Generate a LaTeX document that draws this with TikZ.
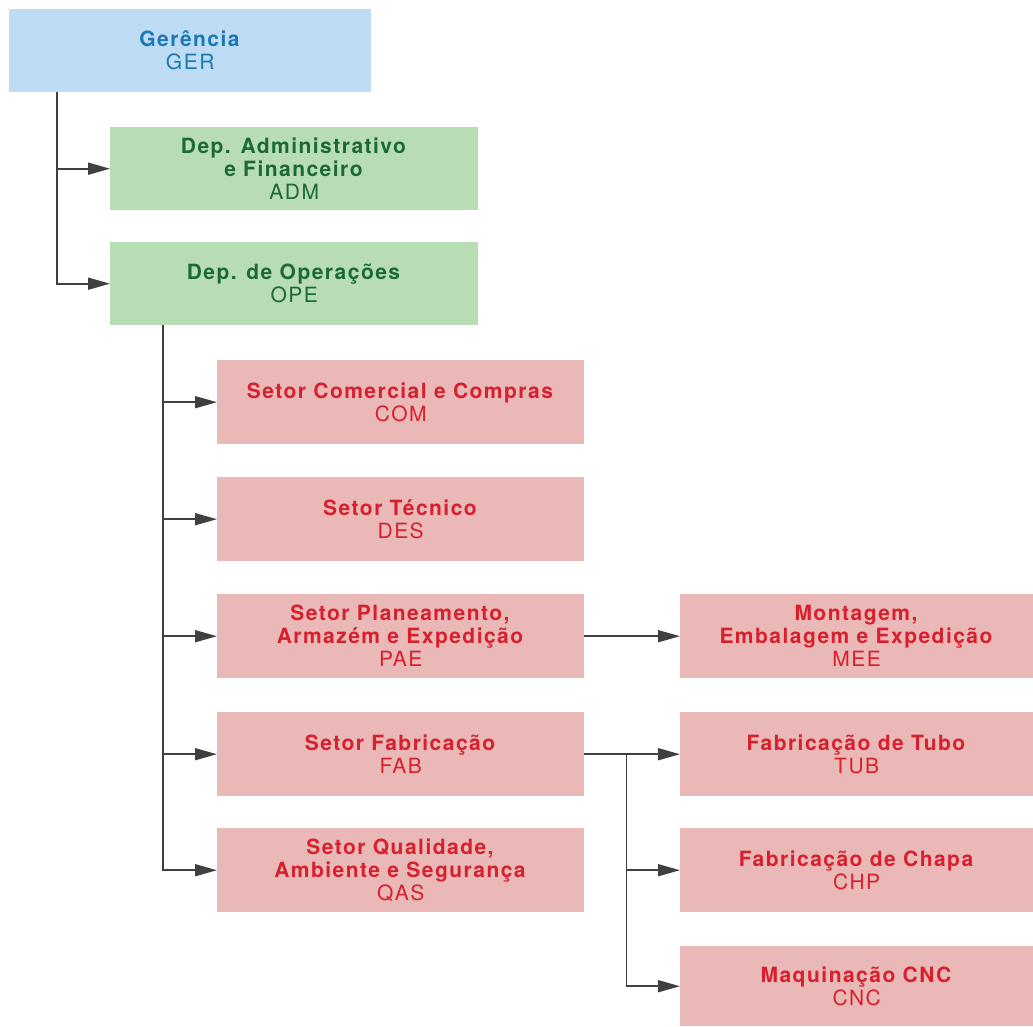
\documentclass[tikz,border=0pt]{standalone}
\usepackage{fontspec}
\setmainfont{TeX Gyre Heros}[LetterSpace=7]
\usetikzlibrary{arrows.meta,calc}
\definecolor{gerfill}{HTML}{BEDDF4}
\definecolor{gertext}{HTML}{1B78B5}
\definecolor{depfill}{HTML}{B8DCB4}
\definecolor{deptext}{HTML}{1B6A36}
\definecolor{setfill}{HTML}{EAB8B7}
\definecolor{settext}{HTML}{D71F2D}
\definecolor{linkgray}{HTML}{404040}
\begin{document}
\begin{tikzpicture}[x=1pt,y=-1pt,
  unit/.style={inner sep=0pt, anchor=north west, align=center,
    font=\fontsize{21}{23}\selectfont},
  topbox/.style={unit, fill=gerfill, text=gertext, minimum width=362pt, minimum height=83pt},
  depbox/.style={unit, fill=depfill, text=deptext, minimum width=368pt, minimum height=83pt},
  setbox/.style={unit, fill=setfill, text=settext, minimum width=367pt, minimum height=84pt},
  subbox/.style={unit, fill=setfill, text=settext, minimum width=353pt, minimum height=84pt},
  conn/.style={draw=linkgray, line width=1.7pt, -{Triangle[length=22pt,width=12pt]}}]
\useasboundingbox (0,0) rectangle (1033,1026);

% management
\node[topbox] (ger) at (9,9) {\textbf{Gerência}\\GER};

% departments
\node[depbox] (adm) at (110,127) {\textbf{Dep. Administrativo}\\\textbf{e Financeiro}\\ADM};
\node[depbox] (ope) at (110,242) {\textbf{Dep. de Operações}\\OPE};

% sectors
\node[setbox] (com) at (217,360) {\textbf{Setor Comercial e Compras}\\COM};
\node[setbox] (des) at (217,477) {\textbf{Setor Técnico}\\DES};
\node[setbox] (pae) at (217,594) {\textbf{Setor Planeamento,}\\\textbf{Armazém e Expedição}\\PAE};
\node[setbox] (fab) at (217,712) {\textbf{Setor Fabricação}\\FAB};
\node[setbox] (qas) at (217,828) {\textbf{Setor Qualidade,}\\\textbf{Ambiente e Segurança}\\QAS};

% sub-units
\node[subbox] (mee) at (680,594) {\textbf{Montagem,}\\\textbf{Embalagem e Expedição}\\MEE};
\node[subbox] (tub) at (680,712) {\textbf{Fabricação de Tubo}\\TUB};
\node[subbox] (chp) at (680,828) {\textbf{Fabricação de Chapa}\\CHP};
\node[subbox, minimum height=80pt] (cnc) at (680,946) {\textbf{Maquinação CNC}\\CNC};

% management -> departments
\coordinate (gtrunk) at ([xshift=48pt]ger.south west);
\draw[conn] (gtrunk) |- (adm.west);
\draw[conn] (gtrunk) |- (ope.west);

% operations -> sectors
\coordinate (otrunk) at ([xshift=53pt]ope.south west);
\draw[conn] (otrunk) |- (com.west);
\draw[conn] (otrunk) |- (des.west);
\draw[conn] (otrunk) |- (pae.west);
\draw[conn] (otrunk) |- (fab.west);
\draw[conn] (otrunk) |- (qas.west);

% sectors -> sub-units
\draw[conn] (pae.east) -- (mee.west);
\draw[conn] (fab.east) -- (tub.west);
\coordinate (ftrunk) at ([xshift=42pt]fab.east);
\draw[conn] (ftrunk) |- (chp.west);
\draw[conn] (ftrunk) |- (cnc.west);
\end{tikzpicture}
\end{document}
